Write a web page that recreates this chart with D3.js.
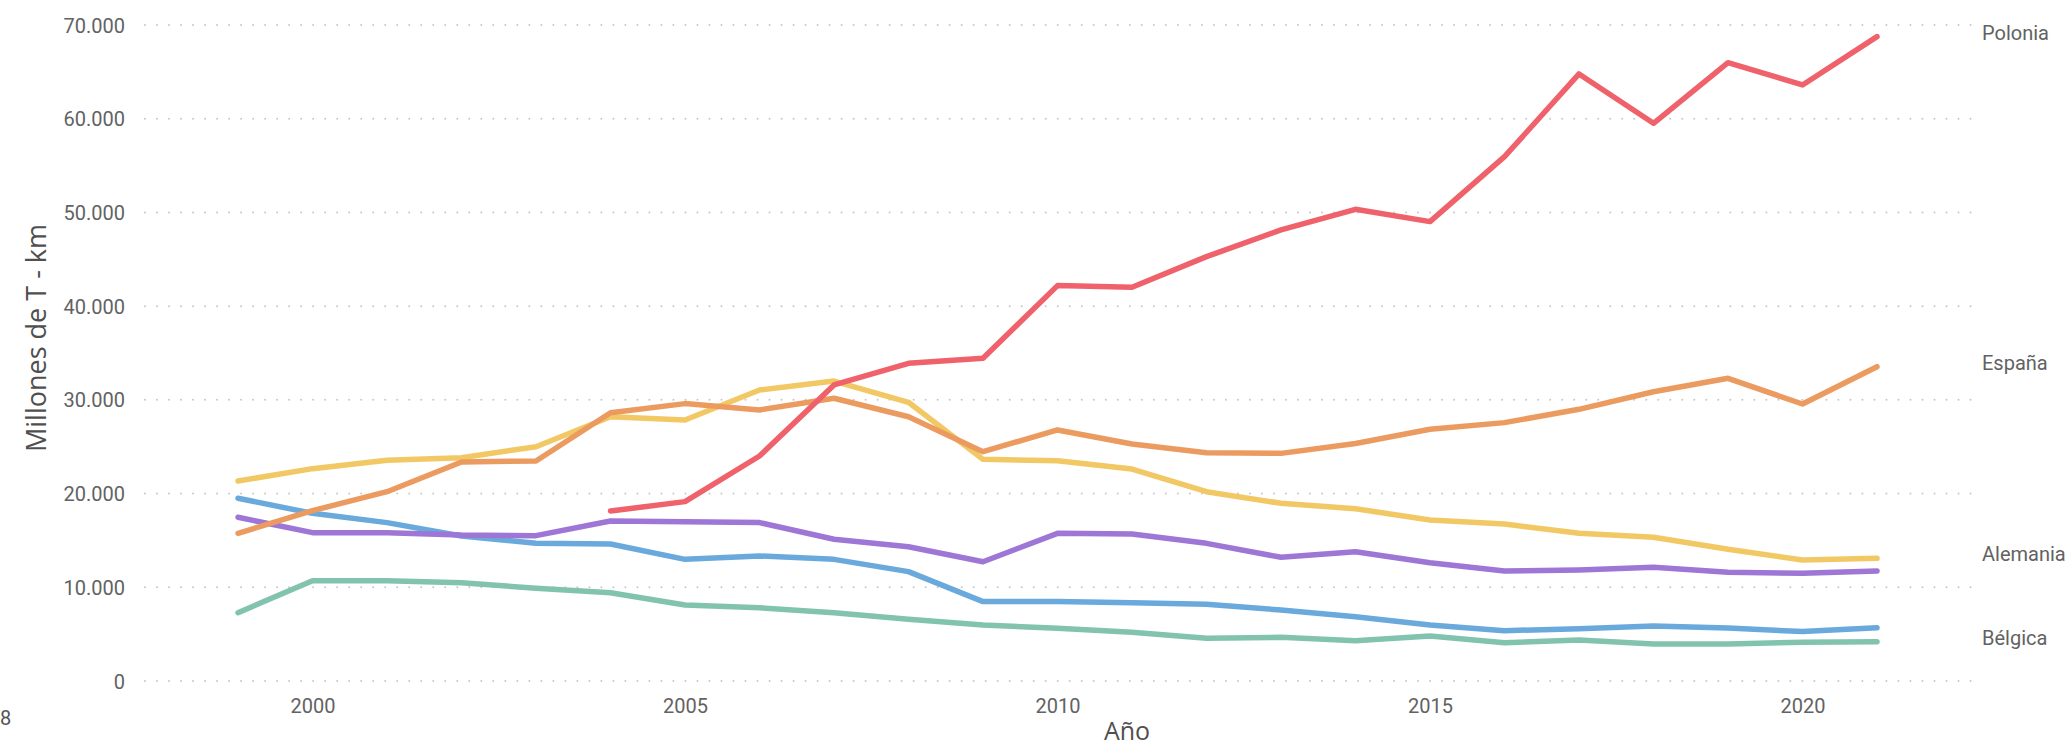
<!DOCTYPE html>
<html>
<head>
<meta charset="utf-8">
<script src="https://cdn.jsdelivr.net/npm/d3@7"></script>
<style>
  html, body { margin: 0; padding: 0; background: #ffffff; }
  svg { display: block; }
</style>
</head>
<body>
<svg id="chart" width="2067" height="746"></svg>
<script>
// Years on the x axis
const years = [1999, 2000, 2001, 2002, 2003, 2004, 2005, 2006, 2007, 2008, 2009, 2010,
               2011, 2012, 2013, 2014, 2015, 2016, 2017, 2018, 2019, 2020, 2021];

// Millions of tonne-km per year (null = no data)
const polonia = [null, null, null, null, null, 18140, 19140, 24010, 31590, 33900, 34440, 42190,
                 42010, 45280, 48130, 50330, 49020, 55950, 64780, 59510, 65980, 63600, 68760];
const espana = [15760, 18180, 20200, 23370, 23480, 28630, 29600, 28920, 30170, 28200, 24470, 26790,
                25290, 24360, 24290, 25350, 26860, 27570, 28990, 30870, 32300, 29560, 33540];
const alemania = [21340, 22660, 23550, 23830, 25000, 28200, 27850, 31050, 32010, 29740, 23650, 23510,
                  22620, 20200, 18960, 18380, 17180, 16750, 15760, 15330, 14050, 12910, 13090];
const seriePurpura = [17470, 15830, 15830, 15580, 15510, 17070, 17000, 16900, 15120, 14330, 12730, 15760,
                      15690, 14690, 13200, 13800, 12620, 11740, 11850, 12130, 11600, 11490, 11740];
const serieAzul = [19500, 17890, 16900, 15470, 14690, 14620, 12980, 13340, 12980, 11670, 8470, 8470,
                   8360, 8180, 7580, 6860, 5980, 5370, 5580, 5870, 5660, 5270, 5690];
const belgica = [7290, 10700, 10700, 10490, 9890, 9420, 8110, 7820, 7290, 6580, 5980, 5620,
                 5200, 4560, 4660, 4300, 4800, 4090, 4380, 3950, 3950, 4130, 4200];

// Axis ticks
const yTicks = [0, 10000, 20000, 30000, 40000, 50000, 60000, 70000];
const xTicks = [2000, 2005, 2010, 2015, 2020];

// Series in drawing order; label "" means the end label is not shown
const series = [
  { label: "Bélgica",  values: belgica,      color: "#82C3AF" },
  { label: "",         values: serieAzul,    color: "#6AA9DC" },
  { label: "",         values: seriePurpura, color: "#9D76D6" },
  { label: "Alemania", values: alemania,     color: "#F2C864" },
  { label: "España",   values: espana,       color: "#EC9B60" },
  { label: "Polonia",  values: polonia,      color: "#F0626B" }
];

const svg = d3.select("#chart");
const es = d3.formatLocale({ decimal: ",", thousands: ".", grouping: [3], currency: ["", " €"] });
const fmt = es.format(",d");

const x = d3.scaleLinear().domain([1999, 2021]).range([238, 1877]);
const y = d3.scaleLinear().domain([0, 70000]).range([681, 25]);
const gridLeft = 145, gridRight = 1972;

// Horizontal dotted gridlines
svg.append("g")
  .selectAll("line")
  .data(yTicks)
  .join("line")
  .attr("x1", gridLeft)
  .attr("x2", gridRight)
  .attr("y1", d => y(d))
  .attr("y2", d => y(d))
  .attr("stroke", "#c8c8c8")
  .attr("stroke-width", 2)
  .attr("stroke-linecap", "round")
  .attr("stroke-dasharray", "0.01,12");

// Y axis tick labels
const yAxis = d3.axisLeft(y).tickValues(yTicks).tickFormat(fmt).tickSize(0).tickPadding(0);
const gy = svg.append("g").attr("transform", "translate(125,0)").call(yAxis);
gy.select(".domain").remove();
gy.selectAll("text")
  .attr("font-family", "Roboto, sans-serif")
  .attr("font-size", 20)
  .attr("fill", "#626262")
  .attr("dy", "0.35em");

// X axis tick labels
const xAxis = d3.axisBottom(x).tickValues(xTicks).tickFormat(d3.format("d")).tickSize(0).tickPadding(0);
const gx = svg.append("g").attr("transform", "translate(0,706)").call(xAxis);
gx.select(".domain").remove();
gx.selectAll("text")
  .attr("font-family", "Roboto, sans-serif")
  .attr("font-size", 20)
  .attr("fill", "#626262")
  .attr("dy", "0.35em")
  .attr("y", 0);

// Axis titles
svg.append("text")
  .attr("transform", "translate(46,338) rotate(-90)")
  .attr("text-anchor", "middle")
  .attr("font-family", "'Open Sans', sans-serif")
  .attr("font-size", 27)
  .attr("fill", "#4f4f4f")
  .text("Millones de T - km");

svg.append("text")
  .attr("x", 1127)
  .attr("y", 740)
  .attr("text-anchor", "middle")
  .attr("font-family", "'Open Sans', sans-serif")
  .attr("font-size", 25)
  .attr("fill", "#4f4f4f")
  .text("Año");

svg.append("text")
  .attr("x", 0)
  .attr("y", 725)
  .attr("font-family", "Roboto, sans-serif")
  .attr("font-size", 20)
  .attr("fill", "#555555")
  .text("8");

// Lines
const line = d3.line()
  .defined(d => d.v != null)
  .x(d => x(d.year))
  .y(d => y(d.v));

svg.append("g")
  .selectAll("path")
  .data(series)
  .join("path")
  .attr("d", s => line(years.map((yr, i) => ({ year: yr, v: s.values[i] }))))
  .attr("fill", "none")
  .attr("stroke", s => s.color)
  .attr("stroke-width", 5.5)
  .attr("stroke-linejoin", "round")
  .attr("stroke-linecap", "round");

// End labels
svg.append("g")
  .selectAll("text")
  .data(series.filter(s => s.label))
  .join("text")
  .attr("x", 1982)
  .attr("y", s => y(s.values[s.values.length - 1]) + 3)
  .attr("font-family", "Roboto, sans-serif")
  .attr("font-size", 20)
  .attr("fill", "#626262")
  .text(s => s.label);
</script>
</body>
</html>
